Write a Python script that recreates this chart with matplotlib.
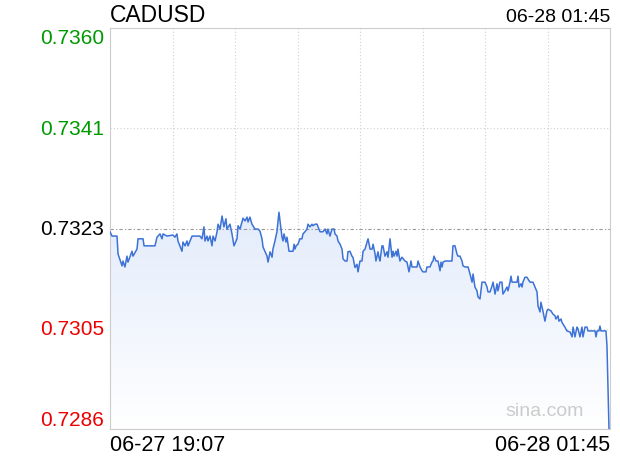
import numpy as np
import matplotlib
matplotlib.use("Agg")
import matplotlib.pyplot as plt
from matplotlib.colors import LinearSegmentedColormap

plt.rcParams['font.family'] = ['Liberation Sans', 'DejaVu Sans']

symbol = "CADUSD"
stamp = "06-28 01:45"
start_label = "06-27 19:07"
end_label = "06-28 01:45"

# minutes since 19:07
minutes = [0.0, 1.6, 5.6, 6.4, 9.6, 10.3, 11.9, 13.5, 14.3, 17.5, 18.3, 21.5, 22.3, 26.3, 27.1,
           35.8, 37.4, 39.8, 41.4, 42.2, 45.4, 50.1, 51.7, 53.3, 54.1, 57.3, 58.1, 59.7, 61.3, 62.1,
           65.3, 71.6, 73.2, 74.8, 75.6, 77.2, 78.0, 79.6, 81.2, 82.0, 83.6, 85.2, 86.0, 87.6, 89.2,
           90.7, 92.3, 93.1, 95.5, 97.1, 98.7, 101.1, 101.9, 103.5, 105.1, 105.9, 107.5, 109.1, 109.9,
           111.4, 113.0, 113.8, 115.4, 117.8, 119.4, 121.0, 121.8, 125.0, 125.8, 127.4, 129.0, 129.7,
           131.3, 132.9, 133.7, 134.5, 136.1, 136.9, 137.7, 138.5, 140.1, 140.9, 142.5, 145.7, 146.5,
           147.3, 148.1, 149.6, 151.2, 152.8, 153.6, 155.2, 156.8, 157.6, 159.2, 160.8, 161.6, 163.2,
           164.8, 165.6, 167.2, 169.5, 171.1, 172.7, 173.5, 175.1, 176.7, 178.3, 179.1, 180.7, 181.5,
           183.1, 184.7, 185.5, 187.1, 188.7, 189.4, 191.0, 192.6, 193.4, 195.0, 196.6, 197.4, 199.0,
           200.6, 201.4, 203.0, 204.6, 205.4, 207.0, 208.6, 209.4, 211.0, 211.7, 213.3, 214.1, 214.9,
           216.5, 217.3, 218.9, 220.5, 221.3, 222.9, 224.5, 225.3, 226.1, 227.7, 228.5, 229.2, 230.8,
           232.4, 234.8, 236.4, 237.2, 238.0, 239.6, 240.4, 244.4, 245.2, 246.8, 248.4, 249.1, 251.5,
           252.3, 254.7, 256.3, 257.1, 257.9, 259.5, 261.1, 262.7, 263.5, 264.3, 265.1, 266.7, 272.2,
           273.0, 274.6, 276.2, 277.0, 278.6, 280.2, 281.0, 282.6, 285.0, 286.6, 288.2, 289.0, 290.5,
           292.1, 292.9, 294.5, 296.1, 298.5, 300.1, 300.9, 302.5, 304.1, 304.9, 306.5, 308.1, 308.8,
           310.4, 312.0, 312.8, 314.4, 316.0, 316.8, 318.4, 319.2, 320.0, 324.0, 324.8, 325.6, 327.2,
           328.0, 328.7, 330.3, 331.9, 332.7, 334.3, 336.7, 338.3, 339.9, 340.7, 342.3, 343.0, 344.6,
           345.4, 346.2, 347.8, 348.6, 351.0, 352.6, 354.2, 355.0, 356.6, 357.4, 359.0, 359.7, 360.5,
           362.1, 363.7, 366.2, 367.8, 368.6, 370.1, 371.7, 372.5, 374.1, 375.7, 376.5, 378.1, 379.7,
           380.5, 386.1, 386.9, 387.7, 389.2, 390.0, 390.8, 394.8, 395.6, 397.2]

price = [0.73224, 0.73216, 0.73216, 0.73183, 0.73161, 0.73170, 0.73159, 0.73179, 0.73168, 0.73188,
         0.73179, 0.73192, 0.73211, 0.73211, 0.73198, 0.73198, 0.73214, 0.73220, 0.73211, 0.73220,
         0.73216, 0.73218, 0.73214, 0.73220, 0.73207, 0.73188, 0.73205, 0.73198, 0.73207, 0.73198,
         0.73216, 0.73216, 0.73211, 0.73233, 0.73207, 0.73216, 0.73207, 0.73216, 0.73198, 0.73216,
         0.73207, 0.73224, 0.73238, 0.73229, 0.73253, 0.73233, 0.73248, 0.73229, 0.73238, 0.73220,
         0.73198, 0.73211, 0.73235, 0.73229, 0.73242, 0.73249, 0.73244, 0.73251, 0.73242, 0.73251,
         0.73238, 0.73235, 0.73229, 0.73229, 0.73225, 0.73211, 0.73196, 0.73179, 0.73168, 0.73187,
         0.73177, 0.73192, 0.73207, 0.73224, 0.73242, 0.73260, 0.73229, 0.73214, 0.73207, 0.73220,
         0.73205, 0.73214, 0.73188, 0.73188, 0.73201, 0.73192, 0.73198, 0.73201, 0.73211, 0.73211,
         0.73220, 0.73224, 0.73229, 0.73238, 0.73233, 0.73238, 0.73235, 0.73238, 0.73238, 0.73233,
         0.73224, 0.73224, 0.73229, 0.73220, 0.73229, 0.73216, 0.73229, 0.73229, 0.73220, 0.73216,
         0.73207, 0.73201, 0.73192, 0.73174, 0.73170, 0.73170, 0.73187, 0.73188, 0.73179, 0.73177,
         0.73158, 0.73164, 0.73150, 0.73170, 0.73170, 0.73188, 0.73192, 0.73205, 0.73211, 0.73192,
         0.73192, 0.73201, 0.73183, 0.73170, 0.73187, 0.73177, 0.73170, 0.73198, 0.73198, 0.73179,
         0.73187, 0.73177, 0.73211, 0.73177, 0.73188, 0.73179, 0.73188, 0.73179, 0.73192, 0.73170,
         0.73177, 0.73170, 0.73168, 0.73159, 0.73150, 0.73170, 0.73159, 0.73159, 0.73170, 0.73159,
         0.73152, 0.73150, 0.73150, 0.73159, 0.73159, 0.73168, 0.73170, 0.73179, 0.73170, 0.73170,
         0.73152, 0.73168, 0.73159, 0.73168, 0.73170, 0.73170, 0.73198, 0.73198, 0.73183, 0.73179,
         0.73179, 0.73170, 0.73161, 0.73159, 0.73159, 0.73146, 0.73131, 0.73146, 0.73122, 0.73115,
         0.73104, 0.73100, 0.73131, 0.73131, 0.73122, 0.73113, 0.73113, 0.73124, 0.73131, 0.73109,
         0.73128, 0.73115, 0.73131, 0.73131, 0.73109, 0.73115, 0.73122, 0.73115, 0.73131, 0.73142,
         0.73131, 0.73131, 0.73142, 0.73122, 0.73128, 0.73122, 0.73131, 0.73140, 0.73140, 0.73137,
         0.73131, 0.73131, 0.73122, 0.73113, 0.73087, 0.73076, 0.73094, 0.73078, 0.73069, 0.73059,
         0.73078, 0.73081, 0.73078, 0.73072, 0.73069, 0.73063, 0.73069, 0.73059, 0.73063, 0.73057,
         0.73054, 0.73048, 0.73041, 0.73039, 0.73030, 0.73048, 0.73030, 0.73048, 0.73045, 0.73030,
         0.73048, 0.73030, 0.73048, 0.73048, 0.73041, 0.73041, 0.73030, 0.73041, 0.73041, 0.73050,
         0.73041, 0.73041, 0.73013, 0.72860]

prev_close = 0.7323
y_ticks = [0.73600, 0.73415, 0.73230, 0.73045, 0.72860]
y_labels = ["0.7360", "0.7341", "0.7323", "0.7305", "0.7286"]
y_colors = ["#009900", "#009900", "#000000", "#ee0000", "#ee0000"]
x_span = 398

fig = plt.figure(figsize=(6.2, 4.6), dpi=100)
ax = fig.add_axes([110 / 620, 30 / 460, 500 / 620, 401 / 460])
ymin, ymax = y_ticks[-1], y_ticks[0]
ax.set_xlim(0, x_span)
ax.set_ylim(ymin, ymax)

# gradient fill under the line
cmap = LinearSegmentedColormap.from_list("fill", ["#ffffff", "#e3ecfb"])
top = max(price)
grad = np.linspace(0, 1, 256).reshape(-1, 1)
im = ax.imshow(grad, aspect="auto", cmap=cmap, origin="lower",
               extent=[0, x_span, ymin, top], zorder=1)
poly = ax.fill_between(minutes, price, ymin, color="none", lw=0)
im.set_clip_path(poly.get_paths()[0], transform=ax.transData)

ax.plot(minutes, price, color="#3d72d6", lw=1.1, zorder=3)

# grid
for xv in np.linspace(0, x_span, 9)[1:-1]:
    ax.axvline(xv, color="#d0d0d0", lw=0.8, ls=(0, (1, 2)), zorder=0.5)
for yv in y_ticks[1:-1]:
    if yv == prev_close:
        ax.axhline(yv, color="#999999", lw=0.8, ls=(0, (3, 2, 1, 2)), zorder=2)
    else:
        ax.axhline(yv, color="#d0d0d0", lw=0.8, ls=(0, (1, 2)), zorder=0.5)

ax.set_xticks([])
ax.set_yticks([])
for s in ax.spines.values():
    s.set_color("#cccccc")
    s.set_linewidth(0.8)

# y labels
for i, (yv, lab, col) in enumerate(zip(y_ticks, y_labels, y_colors)):
    va = "center"
    if i == 0:
        va = "top"
    elif i == len(y_ticks) - 1:
        va = "bottom"
    ax.text(-0.012, yv, lab, transform=ax.get_yaxis_transform(), ha="right", va=va,
            color=col, fontsize=15)

fig.text(110 / 620, 1 - 16 / 460, symbol, fontsize=16.5, ha="left", va="center")
fig.text(610 / 620, 1 - 17 / 460, stamp, fontsize=14, ha="right", va="center")
fig.text(110 / 620, 1 - 446 / 460, start_label, fontsize=15.5, ha="left", va="center")
fig.text(610 / 620, 1 - 446 / 460, end_label, fontsize=15.5, ha="right", va="center")
ax.text(0.87, 0.045, "sina.com", transform=ax.transAxes, fontsize=14, color="#cccccc",
        ha="center", va="center", zorder=4)

fig.savefig("out.png", dpi=100)
